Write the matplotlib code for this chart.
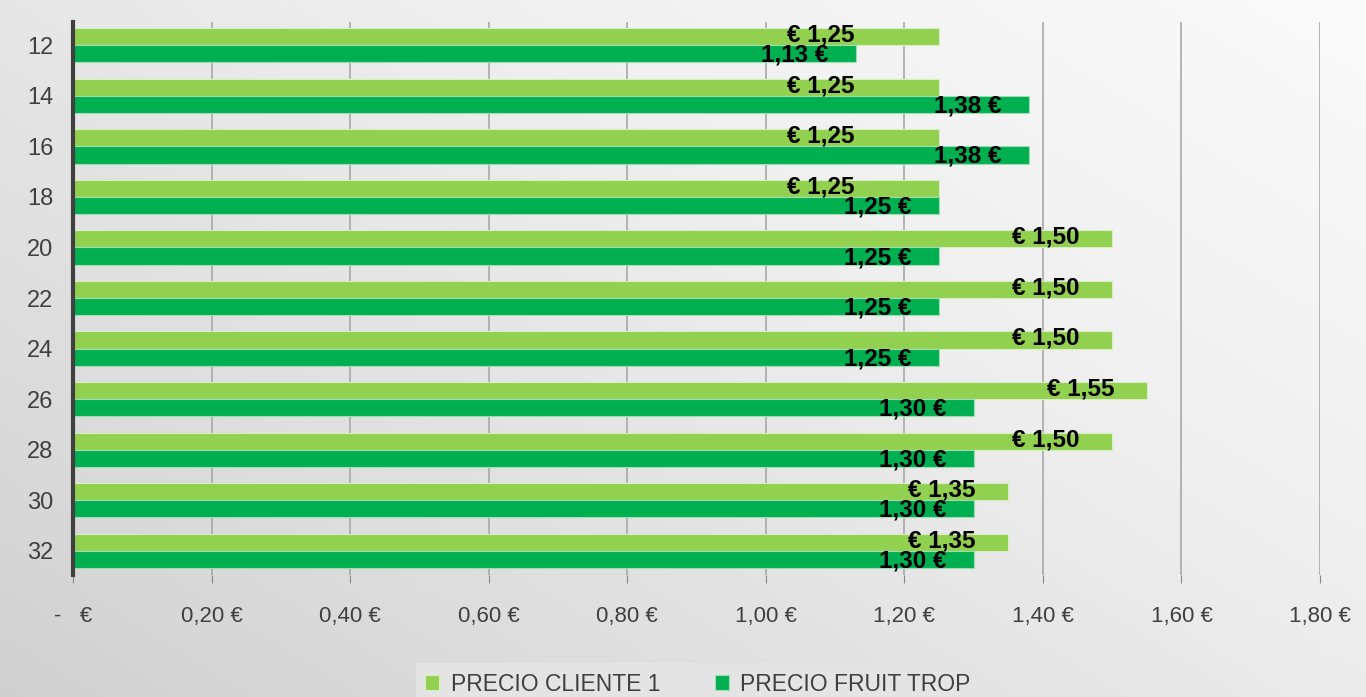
import numpy as np
import matplotlib.pyplot as plt

# sizes (cm) and prices
sizes = ["12", "14", "16", "18", "20", "22", "24", "26", "28", "30", "32"]
precio_cliente = [1.25, 1.25, 1.25, 1.25, 1.50, 1.50, 1.50, 1.55, 1.50, 1.35, 1.35]
precio_fruit = [1.13, 1.38, 1.38, 1.25, 1.25, 1.25, 1.25, 1.30, 1.30, 1.30, 1.30]
series_names = ["PRECIO CLIENTE 1", "PRECIO FRUIT TROP"]
x_ticks = [0.0, 0.2, 0.4, 0.6, 0.8, 1.0, 1.2, 1.4, 1.6, 1.8]

LIGHT = "#92D050"
DARK = "#00B050"

plt.rcParams['font.family'] = ['Liberation Sans Narrow', 'Liberation Sans', 'DejaVu Sans']

fig = plt.figure(figsize=(13.66, 6.97), dpi=100)

# grey gradient background, lighter towards top right
bg = fig.add_axes([0, 0, 1, 1], zorder=-10)
gx, gy = np.meshgrid(np.linspace(0, 1, 300), np.linspace(0, 1, 300))
grad = 0.55 * gx + 0.45 * (1 - gy)
bg.imshow(grad, cmap='Greys_r', vmin=-2.8, vmax=1.15, aspect='auto', extent=[0, 1, 0, 1])
bg.axis('off')

ax = fig.add_axes([73 / 1366, 1 - 575 / 697, (1320 - 73) / 1366, (575 - 22) / 697])
ax.set_facecolor('none')

y = np.arange(len(sizes))
h = 0.34
ax.barh(y - h / 2, precio_cliente, height=h, color=LIGHT, edgecolor='#d8efc0', linewidth=0.8,
        label=series_names[0], zorder=3)
ax.barh(y + h / 2, precio_fruit, height=h, color=DARK, edgecolor='#9fdcb4', linewidth=0.8,
        label=series_names[1], zorder=3)

def fmt_tick(v):
    if v == 0:
        return "-   €"
    return f"{v:.2f} €".replace(".", ",")

# data labels (Excel style, slightly overlapping the bar ends)
for i, v in enumerate(precio_cliente):
    off = 0.17 if v == 1.25 else 0.096
    ax.text(v - off, i - 0.2, f"€ {v:.2f}".replace(".", ","), ha='center', va='center',
            fontsize=17.5, fontweight='bold', color='black', zorder=5)
for i, v in enumerate(precio_fruit):
    ax.text(v - 0.088, i + 0.2, f"{v:.2f} €".replace(".", ","), ha='center', va='center',
            fontsize=17.5, fontweight='bold', color='black', zorder=5)

ax.set_xlim(0, 1.8)
ax.set_ylim(10.478, -0.459)
ax.set_xticks(x_ticks)
ax.set_xticklabels([fmt_tick(v) for v in x_ticks], fontsize=16, color='#404040')
ax.set_yticks(y)
ax.set_yticklabels(sizes, fontsize=17, color='#404040')
ax.tick_params(axis='x', length=6, color='#888888', pad=16)
ax.tick_params(axis='y', length=0, pad=14)

ax.grid(axis='x', color='#a8a8a8', linewidth=1.2, zorder=0)
for s in ['top', 'right', 'bottom']:
    ax.spines[s].set_visible(False)
ax.spines['left'].set_color('#404040')
ax.spines['left'].set_linewidth(3)
ax.spines['left'].set_zorder(6)

leg = fig.legend(loc='upper center', bbox_to_anchor=(0.511, 1 - 652 / 697), ncol=2,
                 fontsize=16.5, frameon=True, handlelength=0.6, handleheight=0.6,
                 handletextpad=0.5, columnspacing=2.4, borderpad=0.4)
leg.get_frame().set_facecolor('#e4e4e4')
leg.get_frame().set_edgecolor('none')
leg.get_frame().set_boxstyle('square', pad=0.0)
leg.get_frame().set_alpha(1)
for t in leg.get_texts():
    t.set_color('#404040')

fig.savefig("out.png", dpi=100)
